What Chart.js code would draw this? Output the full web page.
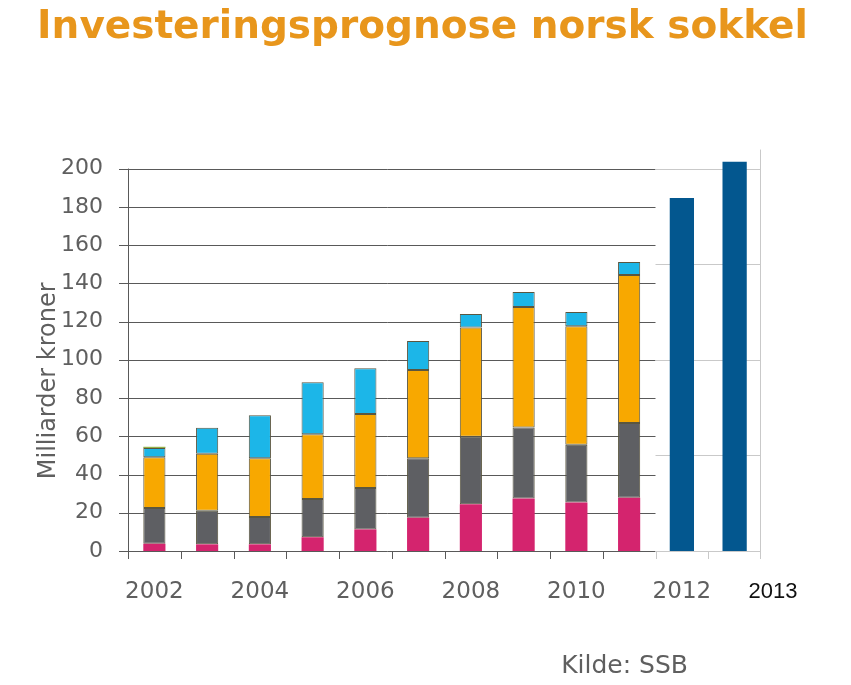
<!DOCTYPE html>
<html>
<head>
<meta charset="utf-8">
<title>Investeringsprognose norsk sokkel</title>
<script src="https://cdn.jsdelivr.net/npm/chart.js@4.4.1/dist/chart.umd.min.js"></script>
<style>
  body { margin: 0; background: #fff; }
  #wrap { width: 851px; height: 685px; }
</style>
</head>
<body>
<div id="wrap"><canvas id="chart" width="851" height="685"></canvas></div>
<script>
// Data (milliarder kroner)
const years = ['2002', '2003', '2004', '2005', '2006', '2007', '2008', '2009', '2010', '2011', '2012', '2013'];
const leting = [3.8, 3.5, 3.5, 7.2, 11.3, 17.4, 24.4, 27.4, 25.3, 27.9, null, null];
const feltIDrift = [18.7, 17.5, 14.3, 20.0, 21.7, 31.1, 35.4, 37.2, 30.2, 39.1, null, null];
const feltUtbygging = [26.5, 29.8, 30.7, 33.8, 38.6, 46.1, 57.1, 63.0, 62.1, 77.3, null, null];
const rorTransport = [4.9, 13.6, 22.5, 27.3, 24.0, 15.2, 7.1, 7.8, 7.4, 6.9, null, null];
const landanlegg = [0.6, 0, 0, 0, 0, 0, 0, 0, 0, 0, null, null];
const prognose = [null, null, null, null, null, null, null, null, null, null, 184.6, 203.5];

const leftTicks = [0, 20, 40, 60, 80, 100, 120, 140, 160, 180, 200];
const rightTicks = [0, 50, 100, 150, 200];

const darkGrid = '#595959';
const lightGrid = '#c9c9c9';
const labelGray = '#5f5f5f';

// Split grid: dark 20-step lines for the history, light 50-step lines for the forecast
const splitGrid = {
    id: 'splitGrid',
    beforeDatasetsDraw(chart) {
        const ctx = chart.ctx;
        const x = chart.scales.x;
        const y = chart.scales.y;
        const area = chart.chartArea;
        const step = x.getPixelForValue(1) - x.getPixelForValue(0);
        const split = x.getPixelForValue(10) - step / 2;
        ctx.save();
        ctx.lineWidth = 1;

        ctx.strokeStyle = darkGrid;
        leftTicks.forEach(v => {
            const py = Math.round(y.getPixelForValue(v)) + 0.5;
            ctx.beginPath();
            ctx.moveTo(area.left - 9, py);
            ctx.lineTo(split, py);
            ctx.stroke();
        });
        // left axis line, from the top tick down past the base
        const ax = Math.round(area.left) + 0.5;
        ctx.beginPath();
        ctx.moveTo(ax, y.getPixelForValue(200));
        ctx.lineTo(ax, area.bottom + 8);
        ctx.stroke();
        // tick marks under the history part
        for (let i = 1; i <= 10; i++) {
            const px = Math.round(x.getPixelForValue(i) - step / 2) + 0.5;
            ctx.beginPath();
            ctx.moveTo(px, area.bottom);
            ctx.lineTo(px, area.bottom + 8);
            ctx.stroke();
        }

        ctx.strokeStyle = lightGrid;
        rightTicks.forEach(v => {
            const py = Math.round(y.getPixelForValue(v)) + 0.5;
            ctx.beginPath();
            ctx.moveTo(split, py);
            ctx.lineTo(area.right, py);
            ctx.stroke();
        });
        [split, x.getPixelForValue(11) - step / 2].forEach(px => {
            ctx.beginPath();
            ctx.moveTo(Math.round(px) + 0.5, area.bottom);
            ctx.lineTo(Math.round(px) + 0.5, area.bottom + 8);
            ctx.stroke();
        });
        const rx = Math.round(area.right) - 0.5;
        ctx.beginPath();
        ctx.moveTo(rx, y.getPixelForValue(200) - 19);
        ctx.lineTo(rx, area.bottom + 8);
        ctx.stroke();
        ctx.restore();
    },
    afterDraw(chart) {
        const ctx = chart.ctx;
        const area = chart.chartArea;
        const y = chart.scales.y;

        ctx.save();
        ctx.fillStyle = '#e8961c';
        ctx.font = 'bold 39px "DejaVu Sans"';
        ctx.textAlign = 'center';
        ctx.textBaseline = 'alphabetic';
        ctx.fillText('Investeringsprognose norsk sokkel', chart.width / 2 - 3, 38);
        ctx.restore();

        ctx.save();
        // axis title, overlapping the tick labels as in the original
        ctx.translate(area.left - 79, y.getPixelForValue(89));
        ctx.rotate(-Math.PI / 2);
        ctx.fillStyle = labelGray;
        ctx.font = '24px "DejaVu Sans"';
        ctx.textAlign = 'center';
        ctx.textBaseline = 'middle';
        ctx.fillText('Milliarder kroner', 0, 0);
        ctx.restore();

        ctx.save();
        ctx.fillStyle = '#111';
        ctx.font = '22px "Liberation Sans"';
        ctx.textAlign = 'center';
        ctx.textBaseline = 'middle';
        ctx.fillText('2013', area.right + 12, area.bottom + 41);

        ctx.fillStyle = labelGray;
        ctx.font = '25px "DejaVu Sans"';
        ctx.textAlign = 'right';
        ctx.fillText('Kilde: SSB', area.right - 73, area.bottom + 115);
        ctx.restore();
    }
};

const histBar = { barPercentage: 0.42, categoryPercentage: 1, borderWidth: 1, borderColor: '#5a5640', borderSkipped: false };

new Chart(document.getElementById('chart'), {
    type: 'bar',
    data: {
        labels: years,
        datasets: [
            { label: 'Leting', data: leting, backgroundColor: '#d4246e', ...histBar, borderWidth: 0 },
            { label: 'Felt i drift', data: feltIDrift, backgroundColor: '#5e5f63', ...histBar },
            { label: 'Felt under utbygging', data: feltUtbygging, backgroundColor: '#f8a800', ...histBar },
            { label: 'Rørtransport', data: rorTransport, backgroundColor: '#1cb6e8', ...histBar },
            { label: 'Landanlegg', data: landanlegg, backgroundColor: '#8cab3c', ...histBar, borderWidth: 0 },
            { label: 'Prognose', data: prognose, backgroundColor: '#03578f', barPercentage: 0.46, categoryPercentage: 1, borderWidth: 0 }
        ]
    },
    options: {
        responsive: false,
        animation: false,
        layout: { padding: { left: 0, right: 90, top: 159, bottom: 0 } },
        plugins: {
            legend: { display: false },
            tooltip: { enabled: false },
            title: { display: false }
        },
        scales: {
            x: {
                stacked: true,
                grid: { display: false },
                border: { display: false },
                afterFit: scale => { scale.height = 134; },
                ticks: {
                    autoSkip: false,
                    maxRotation: 0,
                    padding: 19,
                    color: labelGray,
                    font: { family: '"DejaVu Sans"', size: 23 },
                    callback: (value, index) => (index % 2 === 0 ? years[index] : '')
                }
            },
            y: {
                stacked: true,
                min: 0,
                max: 205,
                afterFit: scale => { scale.width = 128; },
                afterBuildTicks: scale => { scale.ticks = leftTicks.map(v => ({ value: v })); },
                grid: { display: false },
                border: { display: false },
                ticks: {
                    padding: 17,
                    color: labelGray,
                    font: { family: '"DejaVu Sans"', size: 22 }
                }
            }
        }
    },
    plugins: [splitGrid]
});
</script>
</body>
</html>
